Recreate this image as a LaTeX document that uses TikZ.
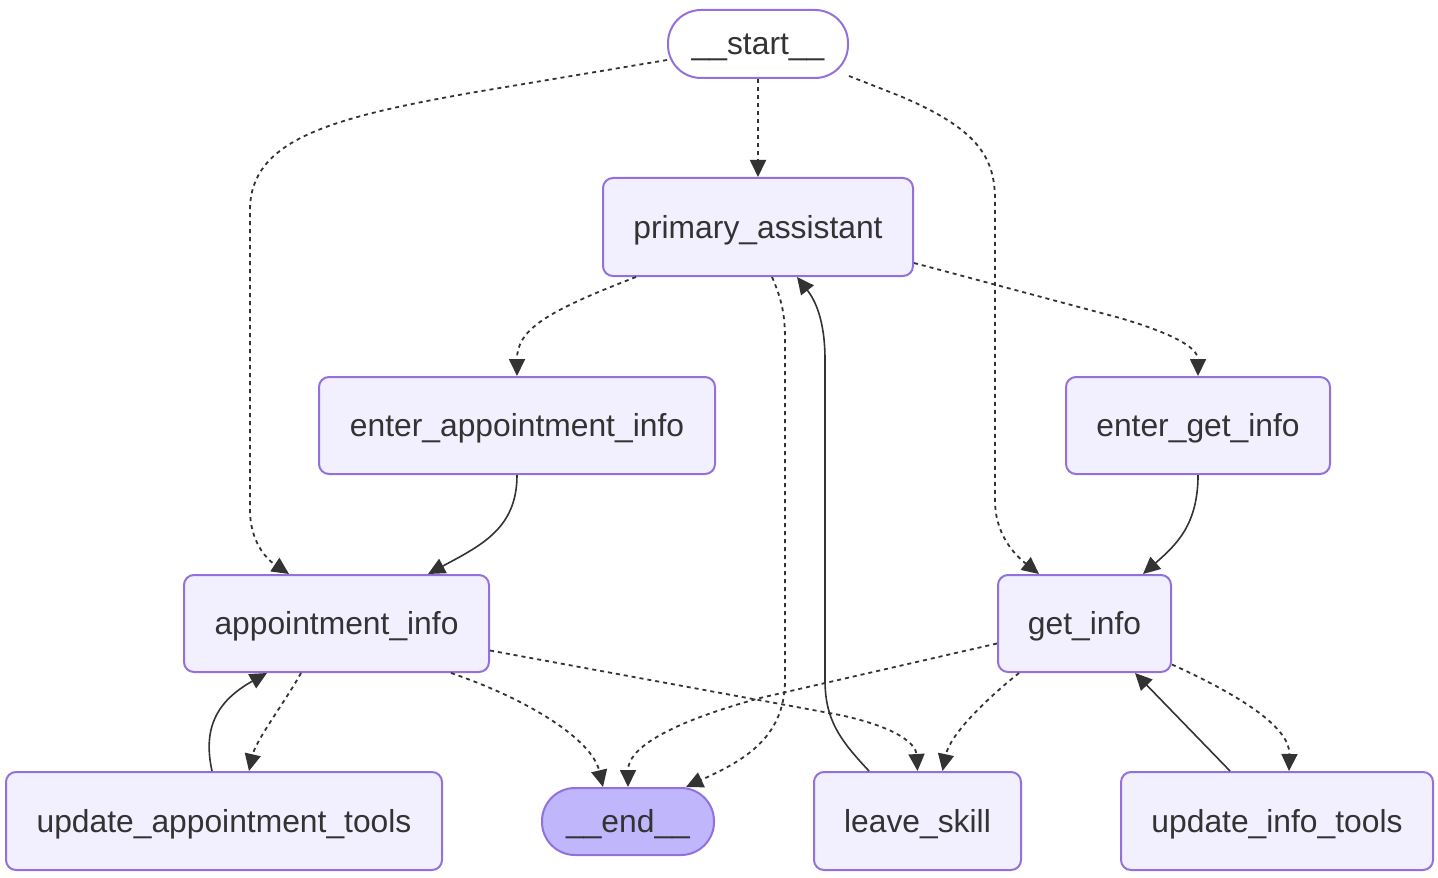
\documentclass[tikz,border=0pt]{standalone}
\usepackage{fontspec}
\setmainfont{Liberation Sans}
\usetikzlibrary{arrows.meta,calc}
\definecolor{nodefill}{HTML}{F2F0FF}
\definecolor{nodestroke}{HTML}{9370DB}
\definecolor{endfill}{HTML}{BFB6FC}
\definecolor{ink}{HTML}{333333}
\tikzset{
  box/.style={draw=nodestroke, fill=nodefill, line width=1pt, rounded corners=5pt,
    inner sep=0pt, text=ink, font=\fontsize{15.9}{19}\selectfont,
    text height=13pt, text depth=2pt},
  startbox/.style={box, fill=white, rounded corners=16.5pt},
  endbox/.style={box, fill=endfill, rounded corners=16.5pt},
  flow/.style={draw=ink, line width=0.8pt, -{Triangle[length=8.5pt,width=8pt]}},
  cond/.style={flow, line width=0.9pt, dash pattern=on 2pt off 2pt},
}
\begin{document}
\begin{tikzpicture}[x=0.5pt,y=-0.5pt]
\useasboundingbox (0,0) rectangle (1438,877);
% nodes
\node[startbox, minimum width=90pt, minimum height=34pt] (start) at (758,44) {\_\_start\_\_};
\node[box, minimum width=155pt, minimum height=49pt] (pa) at (758,227) {primary\_assistant};
\node[box, minimum width=198pt, minimum height=48.5pt] (eai) at (517,425.5) {enter\_appointment\_info};
\node[box, minimum width=132pt, minimum height=48.5pt] (egi) at (1198,425.5) {enter\_get\_info};
\node[box, minimum width=152.5pt, minimum height=48.5pt] (ai) at (336.5,623.5) {appointment\_info};
\node[box, minimum width=86.5pt, minimum height=48.5pt] (gi) at (1084.5,623.5) {get\_info};
\node[box, minimum width=218pt, minimum height=49pt] (uat) at (224,821) {update\_appointment\_tools};
\node[endbox, minimum width=86pt, minimum height=33.5pt] (end) at (628,821.5) {\_\_end\_\_};
\node[box, minimum width=103.5pt, minimum height=49pt] (ls) at (917.5,821) {leave\_skill};
\node[box, minimum width=156pt, minimum height=49pt] (uit) at (1277,821) {update\_info\_tools};

% start edges
\draw[cond] (start.south) -- (pa.north);
\draw[cond] ($(start.west)+(0,16)$) -- (470,93) .. controls (330,118) and (250,140) .. (250,210)
  -- (250,510) .. controls (250,540) and (265,558) .. ($(ai.north west)+(106,0)$);
\draw[cond] ($(start.east)+(0,32)$) -- (900,96) .. controls (975,128) and (995,155) .. (995,200)
  -- (995,500) .. controls (995,535) and (1015,555) .. ($(gi.north west)+(42,0)$);

% primary_assistant edges
\draw[cond] ($(pa.south west)+(34,0)$) .. controls (545,312) and (517,330) .. ($(eai.north)$);
\draw[cond] ($(pa.east)+(0,36)$) -- (1120,318) .. controls (1188,338) and (1198,352) .. (egi.north);
\draw[cond] ($(pa.south)+(14,0)$) .. controls (782,300) and (785,315) .. (785,340)
  -- (785,680) .. controls (785,740) and (740,762) .. ($(end.north)+(58,0)$);

% leave_skill -> primary_assistant
\draw[flow] ($(ls.north west)+(56,0)$) .. controls (840,740) and (825,720) .. (825,680)
  -- (825,360) .. controls (825,320) and (815,300) .. ($(pa.south)+(39,0)$);

% enter_* edges
\draw[flow] (eai.south) .. controls (517,528) and (482,545) .. ($(ai.north west)+(245,0)$);
\draw[flow] (egi.south) .. controls (1198,525) and (1176,545) .. ($(gi.north west)+(146,0)$);

% appointment_info edges
\draw[cond] ($(ai.south west)+(118,0)$) .. controls (285,702) and (256,740) .. ($(uat.north west)+(244,0)$);
\draw[flow] ($(uat.north west)+(207,0)$) .. controls (203,730) and (215,702) .. ($(ai.south west)+(84,0)$);
\draw[cond] ($(ai.south west)+(268,0)$) .. controls (530,700) and (592,740) .. ($(end.north west)+(62,0)$);
\draw[cond] ($(ai.east)+(0,27)$) -- (840,715) .. controls (900,728) and (916,745) .. (ls.north);

% get_info edges
\draw[cond] ($(gi.west)+(0,20)$) -- (760,698) .. controls (662,725) and (628,750) .. (end.north);
\draw[cond] ($(gi.south west)+(22,0)$) .. controls (985,700) and (950,735) .. ($(ls.north)+(25,0)$);
\draw[cond] ($(gi.east)+(0,41)$) .. controls (1250,700) and (1290,730) .. ($(uit.north west)+(169,0)$);
\draw[flow] ($(uit.north west)+(110,0)$) -- ($(gi.south west)+(138,0)$);
\end{tikzpicture}
\end{document}
